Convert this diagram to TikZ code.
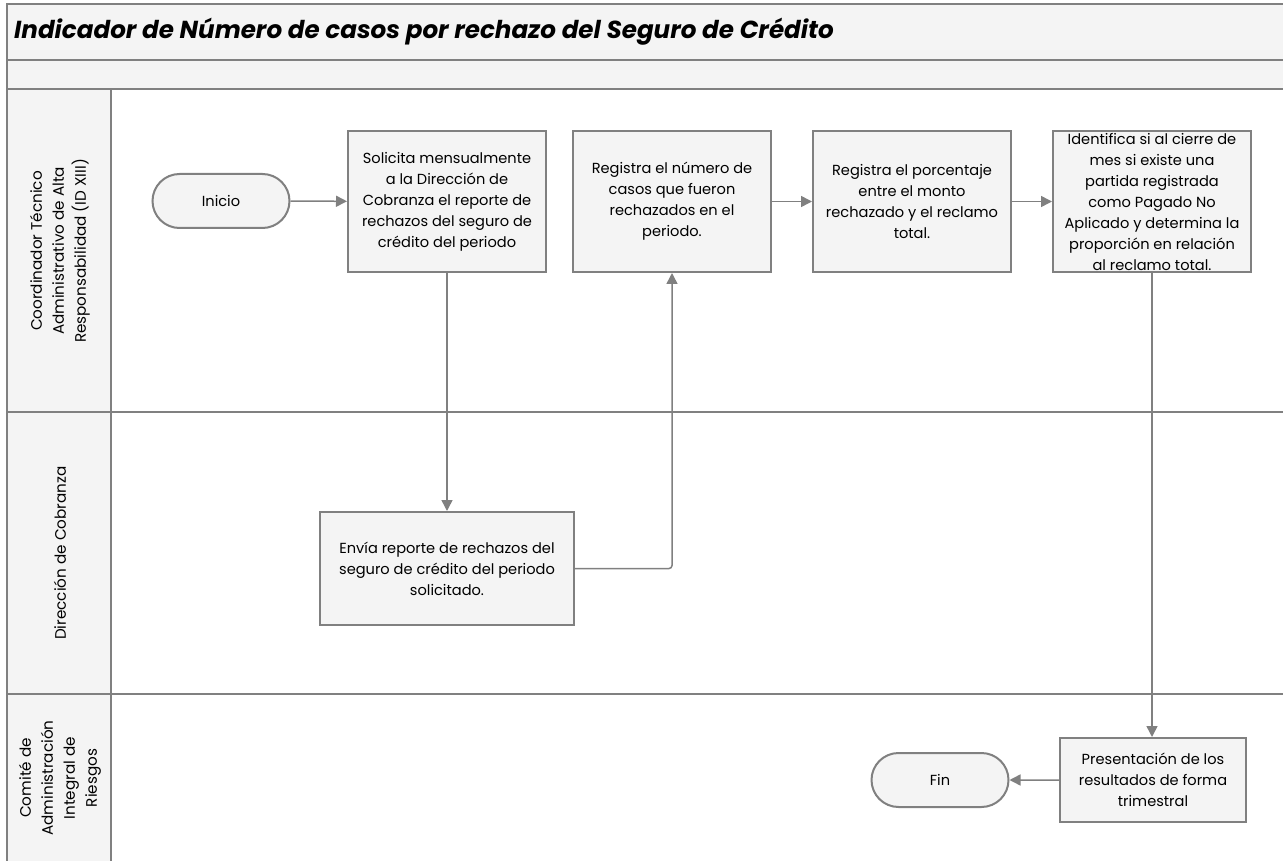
\documentclass[tikz,border=0pt]{standalone}
\usepackage{fontspec}
\setmainfont{Poppins}
\usetikzlibrary{arrows.meta,shapes.misc}
\definecolor{ln}{HTML}{808080}
\definecolor{fl}{HTML}{F4F4F4}
\begin{document}
\begin{tikzpicture}[x=1pt,y=-1pt,
  box/.style={draw=ln, line width=2pt, fill=fl, minimum width=198pt, minimum height=141pt, align=center, font=\fontsize{14.6}{21}\selectfont, inner sep=0pt},
  term/.style={draw=ln, line width=2pt, fill=fl, rounded rectangle, minimum width=137pt, minimum height=54pt, font=\fontsize{14.6}{21}\selectfont, inner sep=0pt},
  arr/.style={draw=ln, line width=1.5pt, -{Triangle[length=11pt,width=11pt]}, rounded corners=3pt},
  lane/.style={draw=ln, line width=2.5pt},
  lanelabel/.style={rotate=90, align=center, font=\fontsize{15.2}{22}\selectfont, inner sep=0pt}]
\useasboundingbox (0,0) rectangle (1283,861);
\begin{scope}
\clip (0,0) rectangle (1283,861);
% bands
\fill[fl] (7,4) rectangle (1300,89);
\fill[fl] (7,89) rectangle (111,880);
\draw[lane] (7,880) -- (7,4) -- (1300,4);
\draw[lane] (7,60) -- (1300,60);
\draw[lane] (7,89) -- (1300,89);
\draw[lane] (7,412) -- (1300,412);
\draw[lane] (7,694) -- (1300,694);
\draw[lane] (111,89) -- (111,880);
\end{scope}
\node[anchor=west, inner sep=0pt, font=\fontsize{24.6}{27}\selectfont\bfseries\itshape] (title) at (14,32) {Indicador de Número de casos por rechazo del Seguro de Crédito};
% lane labels
\node[lanelabel] (l1) at (60,251) {Coordinador Técnico\\Administrativo de Alta\\Responsabilidad (ID XIII)};
\node[lanelabel] (l2) at (60,553) {Dirección de Cobranza};
\node[lanelabel] (l3) at (60,778) {Comité de\\Administración\\Integral de\\Riesgos};
% nodes
\node[term] (ini) at (221,201) {Inicio};
\node[box] (b1) at (447,201.5) {Solicita mensualmente\\a la Dirección de\\Cobranza el reporte de\\rechazos del seguro de\\crédito del periodo};
\node[box] (b2) at (672,201.5) {Registra el número de\\casos que fueron\\rechazados en el\\periodo.};
\node[box] (b3) at (912,201.5) {Registra el porcentaje\\entre el monto\\rechazado y el reclamo\\total.};
\node[box] (b4) at (1152,201.5) {Identifica si al cierre de\\mes si existe una\\partida registrada\\como Pagado No\\Aplicado y determina la\\proporción en relación\\al reclamo total.};
\node[box, minimum width=254pt, minimum height=113pt] (b5) at (447,568.5) {Envía reporte de rechazos del\\seguro de crédito del periodo\\solicitado.};
\node[box, minimum width=186pt, minimum height=84pt] (b6) at (1153,780) {Presentación de los\\resultados de forma\\trimestral};
\node[term] (fin) at (940,780) {Fin};
% connectors
\draw[arr] (ini) -- (b1);
\draw[arr] (b1) -- (b5);
\draw[arr] (b5.east) -| (b2.south);
\draw[arr] (b2) -- (b3);
\draw[arr] (b3) -- (b4);
\draw[arr] (b4.south) -- (b6.north -| b4.south);
\draw[arr] (b6) -- (fin);
\end{tikzpicture}
\end{document}
